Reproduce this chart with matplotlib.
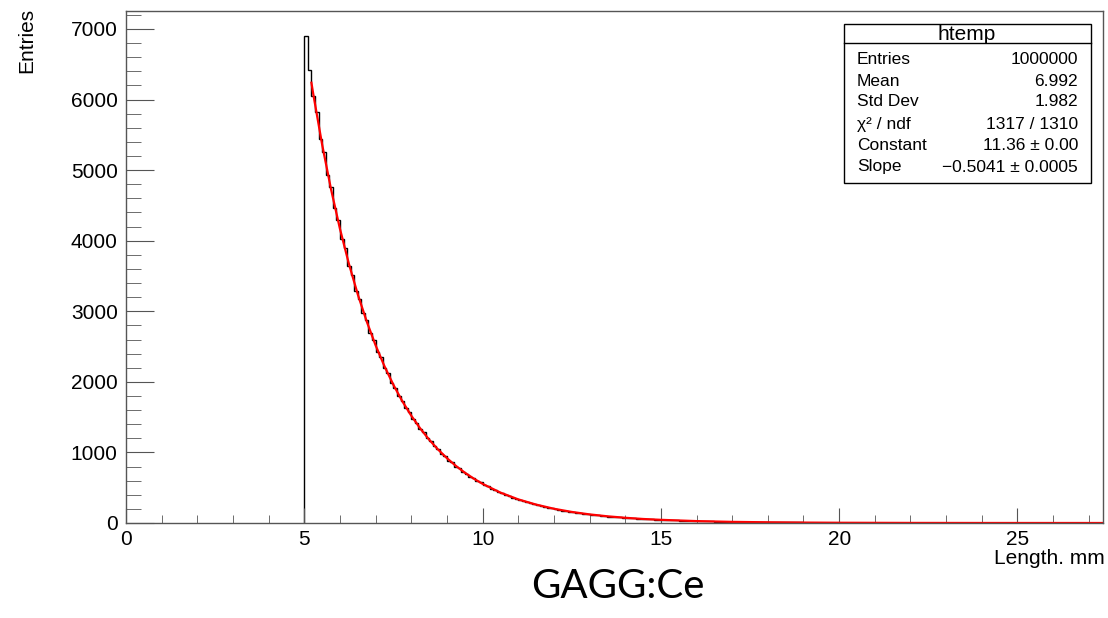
import numpy as np
import matplotlib.pyplot as plt
from matplotlib.patches import Rectangle
from matplotlib.ticker import MultipleLocator

plt.rcParams['font.family'] = ['Liberation Sans', 'DejaVu Sans']

# histograma: bins de 0.1 mm entre 5 y 16, luego bins de 0.5 mm hasta 27.5
hist_inicio = 5.0
hist_ancho_fino = 0.1
hist_corte = 16.0
hist_ancho_grueso = 0.5
cuentas_fino = [
    6900, 6420, 6050, 5820, 5440, 5260, 4930, 4760, 4470, 4300,
    4030, 3890, 3640, 3520, 3290, 3180, 2970, 2880, 2690, 2600,
    2430, 2350, 2200, 2125, 1990, 1920, 1800, 1735, 1625, 1570,
    1470, 1420, 1330, 1285, 1200, 1160, 1085, 1050, 980, 950,
    885, 858, 800, 776, 723, 701, 654, 635, 592, 574,
    535, 519, 484, 469, 438, 424, 396, 384, 358, 346,
    323, 313, 292, 283, 264, 256, 239, 231, 216, 209,
    195, 189, 176, 171, 159, 155, 144, 140, 130, 127,
    118, 113, 107, 102, 97, 92, 88, 83, 79, 75,
    72, 68, 65, 62, 59, 56, 53, 50, 48, 46,
    44, 41, 39, 37, 36, 34, 32, 31, 29, 28,
]
cuentas_grueso = [24, 19, 15, 12, 10, 8, 6, 5, 4, 3, 3, 2, 2, 2, 1, 1, 1, 1, 1, 0, 0, 0, 0]

# curva del ajuste
ajuste_x = [5.2, 5.25, 5.5, 5.75, 6.0, 6.25, 6.5, 6.75, 7.0, 7.25, 7.5, 7.75, 8.0,
            8.25, 8.5, 8.75, 9.0, 9.25, 9.5, 9.75, 10.0, 10.5, 11.0, 11.5, 12.0,
            12.5, 13.0, 13.5, 14.0, 14.5, 15.0, 16.0, 17.0, 18.0, 19.0, 20.0,
            22.0, 24.0, 27.4]
ajuste_y = [6239, 6084, 5364, 4729, 4169, 3675, 3240, 2857, 2518, 2220, 1957, 1725, 1521,
            1341, 1182, 1042, 919, 810, 714, 630, 555, 431, 335, 261, 202,
            157, 122, 95, 74, 57, 45, 27, 16, 10, 6, 3.6,
            1.3, 0.5, 0.1]

stats_nombres = ['Entries', 'Mean', 'Std Dev', 'χ² / ndf', 'Constant', 'Slope']
stats_valores = ['1000000', '6.992', '1.982', '1317 / 1310', '11.36 ± 0.00', '−0.5041 ± 0.0005']

W, H = 1108, 618
fig = plt.figure(figsize=(W / 100, H / 100), dpi=100)
ax = fig.add_axes([126 / W, 1 - 523 / H, (1103 - 126) / W, (523 - 11) / H])

bordes = np.concatenate([
    hist_inicio + hist_ancho_fino * np.arange(len(cuentas_fino)),
    hist_corte + hist_ancho_grueso * np.arange(len(cuentas_grueso) + 1),
])
ax.stairs(cuentas_fino + cuentas_grueso, bordes, color='black', lw=1, baseline=0)
ax.plot(ajuste_x, ajuste_y, color='#ff0000', lw=1.6)

ax.set_xlim(0, 27.4)
ax.set_ylim(0, 7255)
ax.xaxis.set_major_locator(MultipleLocator(5))
ax.xaxis.set_minor_locator(MultipleLocator(1))
ax.yaxis.set_major_locator(MultipleLocator(1000))
ax.yaxis.set_minor_locator(MultipleLocator(200))
for s in ax.spines.values():
    s.set_color('#555555')
    s.set_linewidth(1)
ax.tick_params(axis='both', which='both', direction='in', color='#555555', labelsize=15)
ax.tick_params(axis='x', which='major', length=11, pad=5)
ax.tick_params(axis='x', which='minor', length=5.5)
ax.tick_params(axis='y', which='major', length=20, pad=6)
ax.tick_params(axis='y', which='minor', length=11)

fig.text(1105 / W, 1 - 564 / H, 'Length. mm', ha='right', va='baseline', fontsize=15)
fig.text(27 / W, 1 - 8 / H, 'Entries', ha='center', va='top', rotation=90, fontsize=15)
fig.text(618 / W, 1 - 586 / H, 'GAGG:Ce', ha='center', va='center', fontsize=29,
         family=['Lato', 'DejaVu Sans'])

# caja de estadisticas
x0, x1, y0, y1 = 844, 1091, 24, 183
fig.patches.append(Rectangle((x0 / W, 1 - y1 / H), (x1 - x0) / W, (y1 - y0) / H,
                             transform=fig.transFigure, fill=True, facecolor='white',
                             edgecolor='black', lw=1, zorder=5))
fig.add_artist(plt.Line2D([x0 / W, x1 / W], [1 - 43 / H, 1 - 43 / H],
                          transform=fig.transFigure, color='black', lw=1, zorder=6))
fig.text(967 / W, 1 - 34 / H, 'htemp', ha='center', va='center', fontsize=15, zorder=7)
filas_y = [59, 81, 102, 124, 146, 167]
for nombre, valor, fy in zip(stats_nombres, stats_valores, filas_y):
    fig.text(857 / W, 1 - fy / H, nombre, ha='left', va='center', fontsize=12.5, zorder=7)
    fig.text(1078 / W, 1 - fy / H, valor, ha='right', va='center', fontsize=12.5, zorder=7)

fig.savefig('out.png', dpi=100)
